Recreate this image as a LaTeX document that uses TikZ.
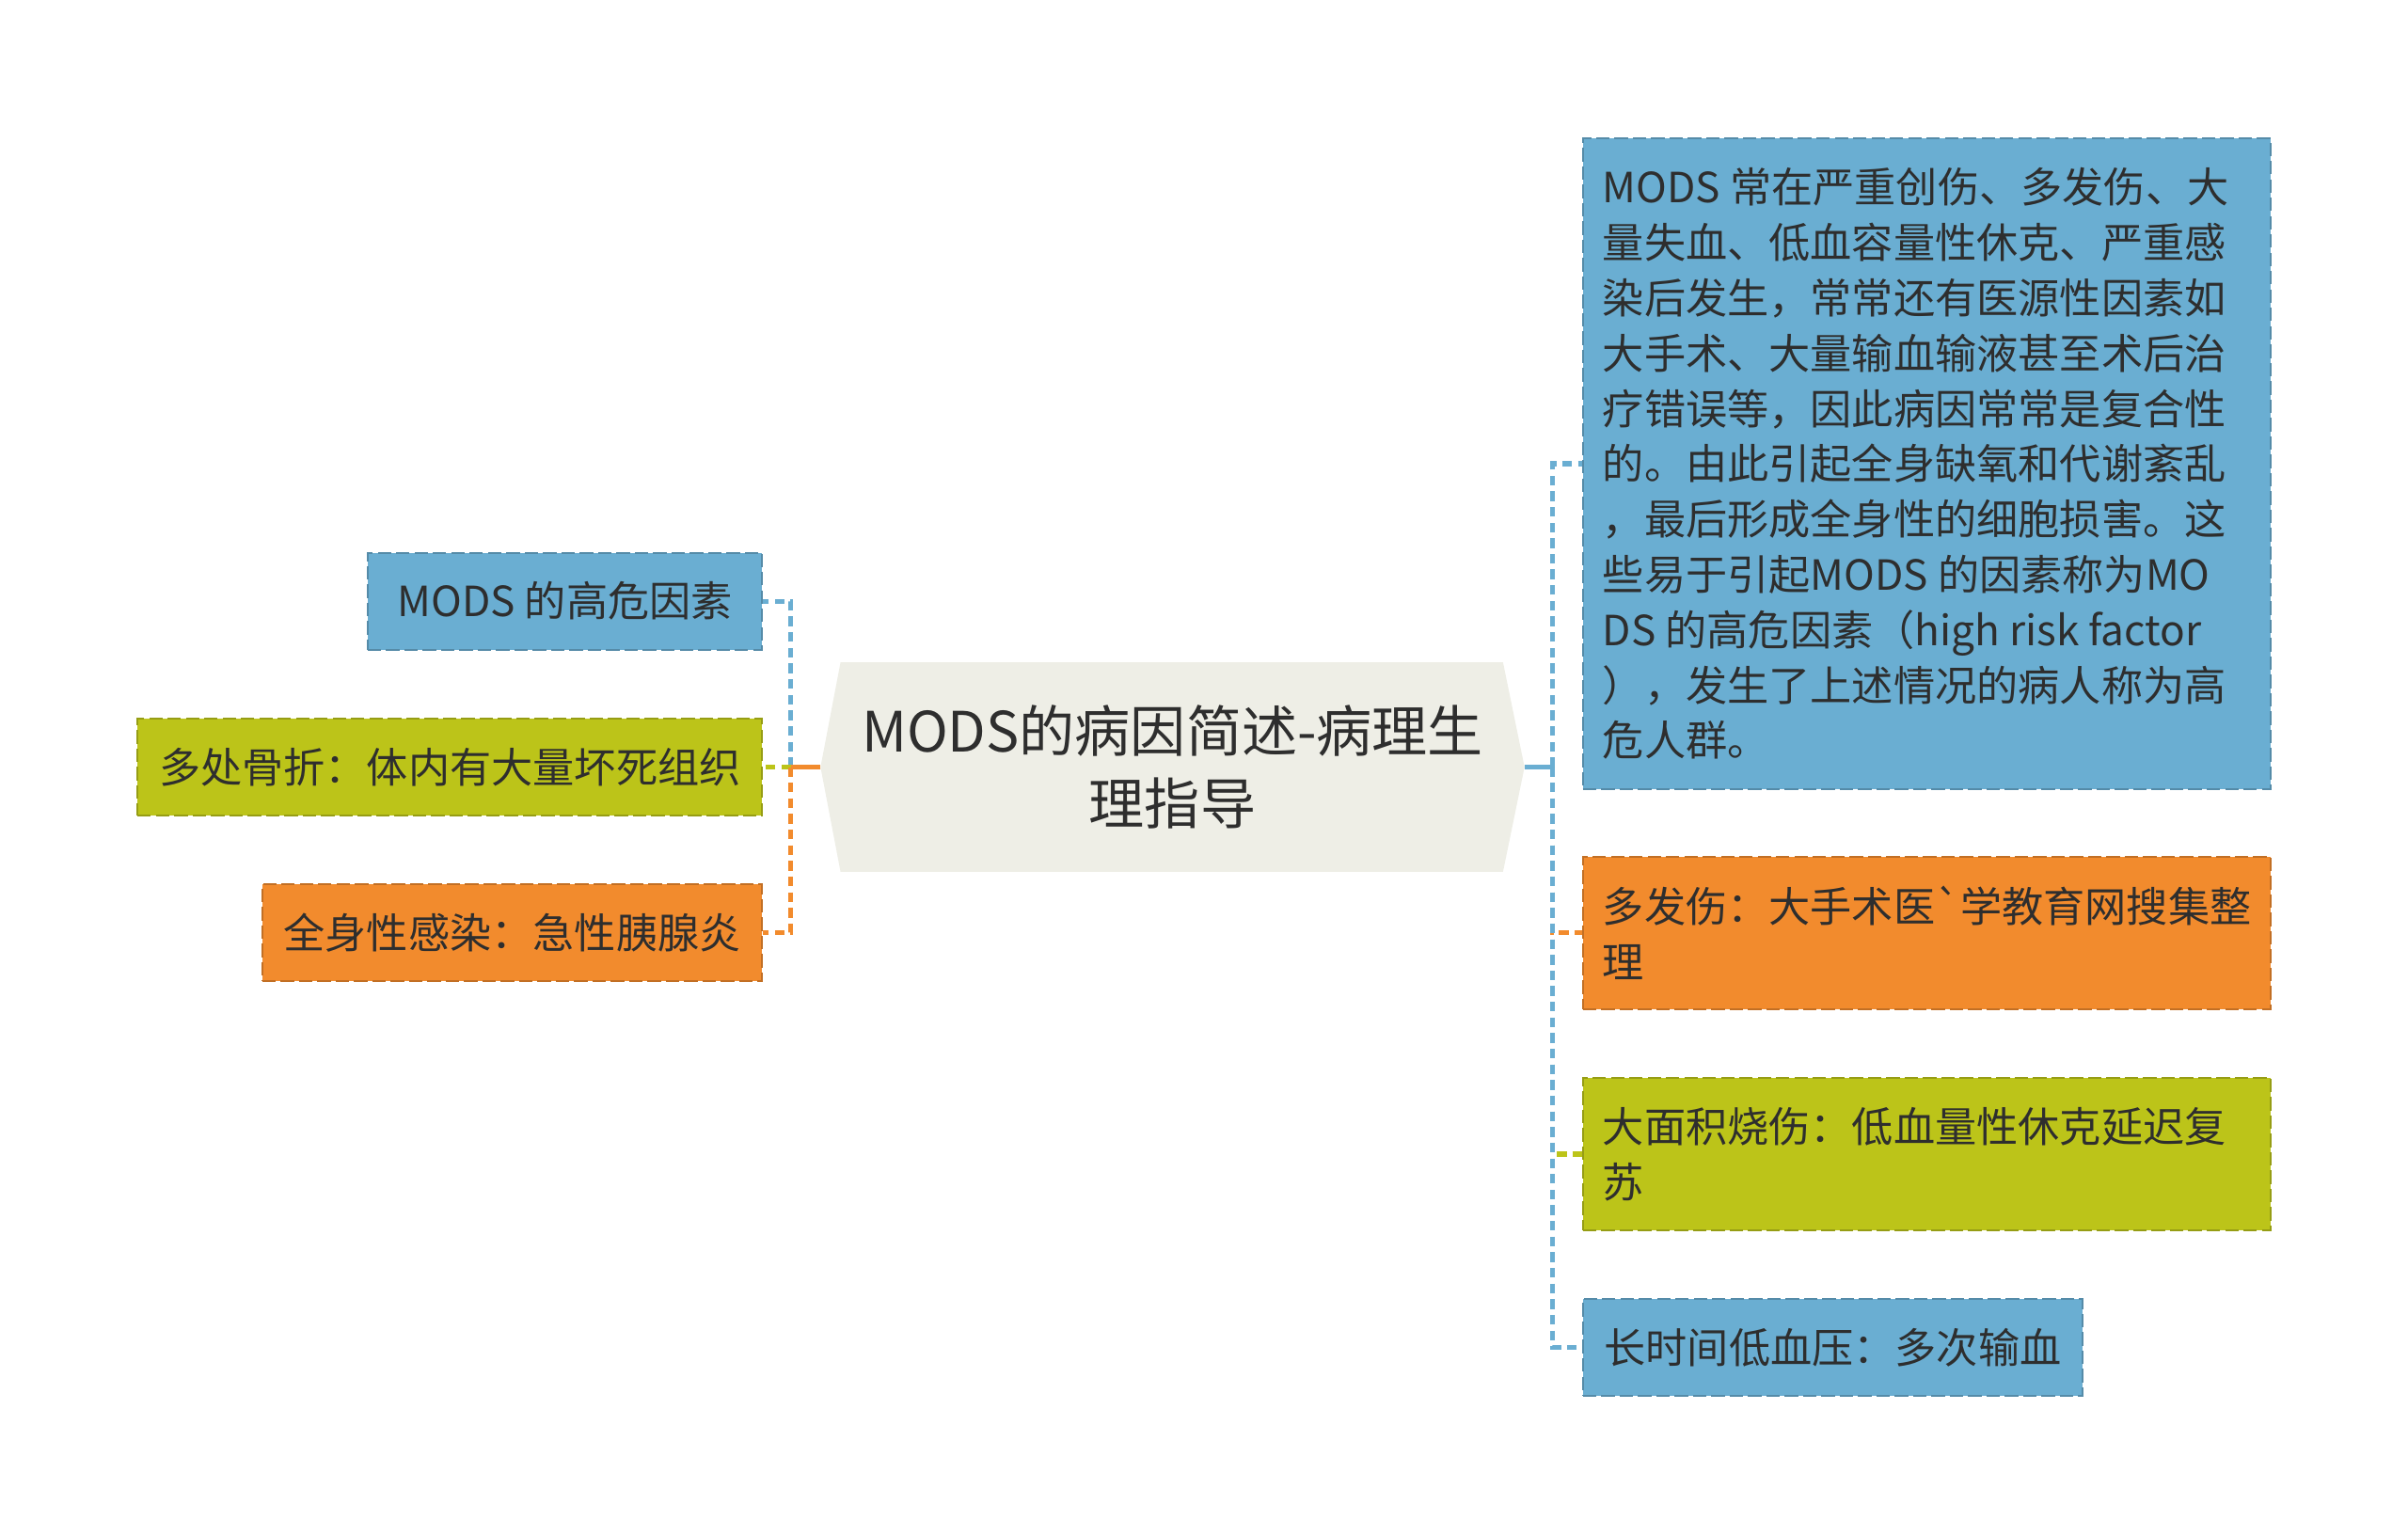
\documentclass[tikz,border=0pt]{standalone}
\usepackage{fontspec}
\newfontfamily\cjk{Noto Sans CJK SC}
\usetikzlibrary{backgrounds}
\definecolor{topicfill}{HTML}{EEEEE6}
\definecolor{skyblue}{HTML}{6AAED2}
\definecolor{leafgreen}{HTML}{BCC419}
\definecolor{tangerine}{HTML}{F28B2D}
\definecolor{inkgray}{HTML}{2E2E2E}
\tikzset{
    topic/.style={text=inkgray, font=\cjk\fontsize{10.3}{13.4}\selectfont,
                  align=center, minimum width=4.57cm, minimum height=1.35cm, inner sep=0pt},
    leaf/.style={draw=#1!80!black, fill=#1, dash pattern=on 2.5pt off 0.9pt, line width=0.35pt,
                 text=inkgray, font=\cjk\fontsize{7.7}{10.25}\selectfont, align=left,
                 minimum height=0.63cm, inner xsep=0.14cm},
    note/.style={leaf=#1, text width=4.22cm, inner xsep=0.13cm, align=flush left},
    stem/.style={draw=#1, line width=0.9pt},
    branch/.style={draw=#1, line width=0.9pt, dash pattern=on 1.8pt off 1.1pt}
}
\begin{document}
\begin{tikzpicture}
\useasboundingbox (0,0) rectangle (15.68,-10);

% === NODES ===

% Central topic
\node[topic] (topic) at (7.635,-4.995) {MODS的病因简述-病理生\\理指导};
\begin{scope}[on background layer]
\fill[topicfill] (topic.west) -- ([xshift=0.13cm]topic.north west) -- ([xshift=-0.14cm]topic.north east)
    -- (topic.east) -- ([xshift=-0.14cm]topic.south east) -- ([xshift=0.13cm]topic.south west) -- cycle;
\end{scope}

% Left branches
\node[leaf=skyblue, anchor=east, minimum width=2.57cm] (risk) at (4.97,-3.915) {MODS 的高危因素};
\node[leaf=leafgreen, anchor=east] (fracture) at (4.97,-4.995) {多处骨折：体内有大量坏死组织};
\node[leaf=tangerine, anchor=east] (sepsis) at (4.97,-6.075) {全身性感染：急性胰腺炎};

% Right branches
\node[note=skyblue, anchor=west, minimum height=4.24cm] (cause) at (10.30,-3.02)
    {MODS 常在严重创伤、多发伤、大\\量失血、低血容量性休克、严重感\\染后发生，常常还有医源性因素如\\%
     大手术、大量输血输液甚至术后治\\疗错误等，因此病因常常是复合性\\的。由此引起全身缺氧和代谢紊乱\\%
     ，最后形成全身性的细胞损害。这\\些易于引起MODS 的因素称为MO\\DS 的高危因素（high risk factor\\%
     ），发生了上述情况的病人称为高\\危人群。};
\node[note=tangerine, anchor=west, minimum height=0.99cm] (trauma) at (10.30,-6.075)
    {多发伤：大手术医`学教育网搜集整\\理};
\node[note=leafgreen, anchor=west, minimum height=0.99cm] (burn) at (10.30,-7.515)
    {大面积烧伤：低血量性休克延迟复\\苏};
\node[leaf=skyblue, anchor=west] (hypo) at (10.30,-8.775) {长时间低血压：多次输血};

% Junctions
\coordinate (lj) at (5.15,-4.995);
\coordinate (rj) at (10.11,-4.995);

% === CONNECTORS ===

% Left side
\draw[stem=skyblue] (topic.west) -- (lj);
\draw[branch=skyblue] (lj) |- (risk.east);
\draw[stem=leafgreen] (topic.west) -- (lj);
\draw[branch=leafgreen] (lj) -- (fracture.east);
\draw[stem=tangerine] (topic.west) -- (lj);
\draw[branch=tangerine] (lj) |- (sepsis.east);

% Right side
\draw[stem=skyblue] (topic.east) -- (rj);
\draw[branch=skyblue] (rj) |- (cause.west);
\draw[stem=tangerine] (topic.east) -- (rj);
\draw[branch=tangerine] (rj) |- (trauma.west);
\draw[stem=leafgreen] (topic.east) -- (rj);
\draw[branch=leafgreen] (rj) |- (burn.west);
\draw[stem=skyblue] (topic.east) -- (rj);
\draw[branch=skyblue] (rj) |- (hypo.west);

\end{tikzpicture}
\end{document}
